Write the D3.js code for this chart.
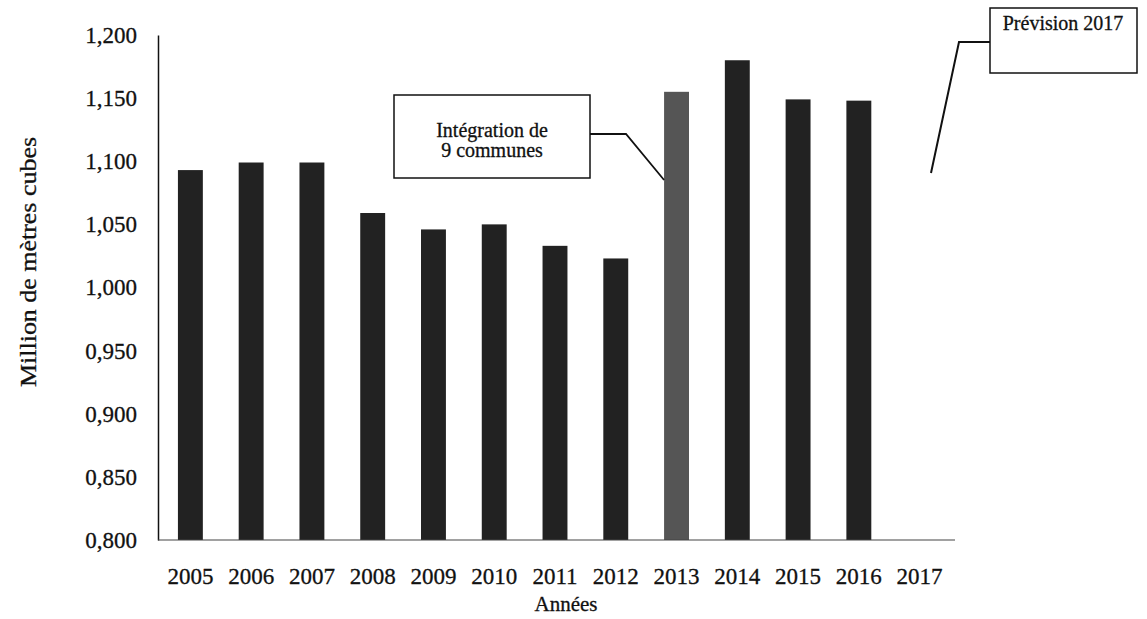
<!DOCTYPE html>
<head>
  <meta charset="utf-8">
  <title>Million de mètres cubes</title>
  <style>
    body { margin: 0; background: #fff; }
    text { font-family: "Liberation Serif", serif; fill: #111; stroke: #111; stroke-width: 0.3px; }
  </style>
</head>
<body>
<script src="https://cdn.jsdelivr.net/npm/d3@7"></script>
<script>

    // data
    var years = ["2005", "2006", "2007", "2008", "2009", "2010", "2011",
                 "2012", "2013", "2014", "2015", "2016", "2017"];
    var volumes = [1.093, 1.099, 1.099, 1.059, 1.046, 1.050, 1.033,
                   1.023, 1.155, 1.180, 1.149, 1.148, null];
    var yTicks = [0.80, 0.85, 0.90, 0.95, 1.00, 1.05, 1.10, 1.15, 1.20];
    var highlightYear = "2013";

    var width = 1147, height = 619;
    var plot = { left: 160, right: 950, top: 35, bottom: 540 };

    var svg = d3.select("body").append("svg")
        .attr("width", width)
        .attr("height", height);

    var x = d3.scaleBand()
        .domain(years)
        .range([plot.left, plot.right])
        .paddingInner(0.59)
        .paddingOuter(0.295);

    var y = d3.scaleLinear()
        .domain([0.8, 1.2])
        .range([plot.bottom, plot.top]);

    var fmt = function(v) { return d3.format(".3f")(v).replace(".", ","); };

    // bars
    var bars = years.map(function(yr, i) { return { year: yr, value: volumes[i] }; })
        .filter(function(d) { return d.value != null; });

    svg.append("g").selectAll("rect")
        .data(bars)
        .enter().append("rect")
        .attr("x", function(d) { return x(d.year); })
        .attr("y", function(d) { return y(d.value); })
        .attr("width", x.bandwidth())
        .attr("height", function(d) { return y(0.8) - y(d.value); })
        .style("fill", function(d) { return d.year == highlightYear ? "#555" : "#222"; });

    // y axis: line + labels, no ticks
    var yAxis = svg.append("g")
        .attr("transform", "translate(" + (plot.left - 2) + ",0)")
        .call(d3.axisLeft(y).tickValues(yTicks).tickFormat(fmt).tickSize(0).tickPadding(21));
    yAxis.select(".domain").attr("stroke", "#111").attr("stroke-width", 1.5);
    yAxis.selectAll("text")
        .style("font-family", "Liberation Serif")
        .style("font-size", "23px")
        .attr("fill", "#111");

    // x axis: thin base line, labels under each band
    var xAxis = svg.append("g")
        .attr("transform", "translate(0," + plot.bottom + ")")
        .call(d3.axisBottom(x).tickSize(0).tickPadding(28));
    xAxis.select(".domain")
        .attr("d", "M" + (plot.left - 2) + ",0H" + (plot.right + 5))
        .attr("stroke", "#444").attr("stroke-width", 1.2);
    xAxis.selectAll("text")
        .style("font-family", "Liberation Serif")
        .style("font-size", "23px")
        .attr("fill", "#111");

    // axis titles
    svg.append("text")
        .attr("transform", "translate(36,262) rotate(-90)")
        .attr("text-anchor", "middle")
        .attr("textLength", 250)
        .attr("lengthAdjust", "spacingAndGlyphs")
        .style("font-size", "24px")
        .text("Million de mètres cubes");

    svg.append("text")
        .attr("x", 566)
        .attr("y", 611)
        .attr("text-anchor", "middle")
        .style("font-size", "21px")
        .text("Années");

    // annotation: Intégration de 9 communes
    svg.append("rect")
        .attr("x", 394).attr("y", 95)
        .attr("width", 196).attr("height", 83)
        .attr("fill", "#fff").attr("stroke", "#111").attr("stroke-width", 1.5);
    svg.append("text")
        .attr("x", 492).attr("y", 137)
        .attr("text-anchor", "middle")
        .style("font-size", "20px")
        .text("Intégration de");
    svg.append("text")
        .attr("x", 492).attr("y", 157)
        .attr("text-anchor", "middle")
        .style("font-size", "20px")
        .text("9 communes");
    svg.append("path")
        .attr("d", "M590,134H626L" + x(highlightYear) + ",180")
        .attr("fill", "none").attr("stroke", "#111").attr("stroke-width", 1.8);

    // annotation: Prévision 2017
    svg.append("rect")
        .attr("x", 990).attr("y", 8)
        .attr("width", 147).attr("height", 65)
        .attr("fill", "#fff").attr("stroke", "#111").attr("stroke-width", 1.5);
    svg.append("text")
        .attr("x", 1063).attr("y", 30)
        .attr("text-anchor", "middle")
        .style("font-size", "20px")
        .text("Prévision 2017");
    svg.append("path")
        .attr("d", "M990,42H959L931,173")
        .attr("fill", "none").attr("stroke", "#111").attr("stroke-width", 2);

</script>
</body>
